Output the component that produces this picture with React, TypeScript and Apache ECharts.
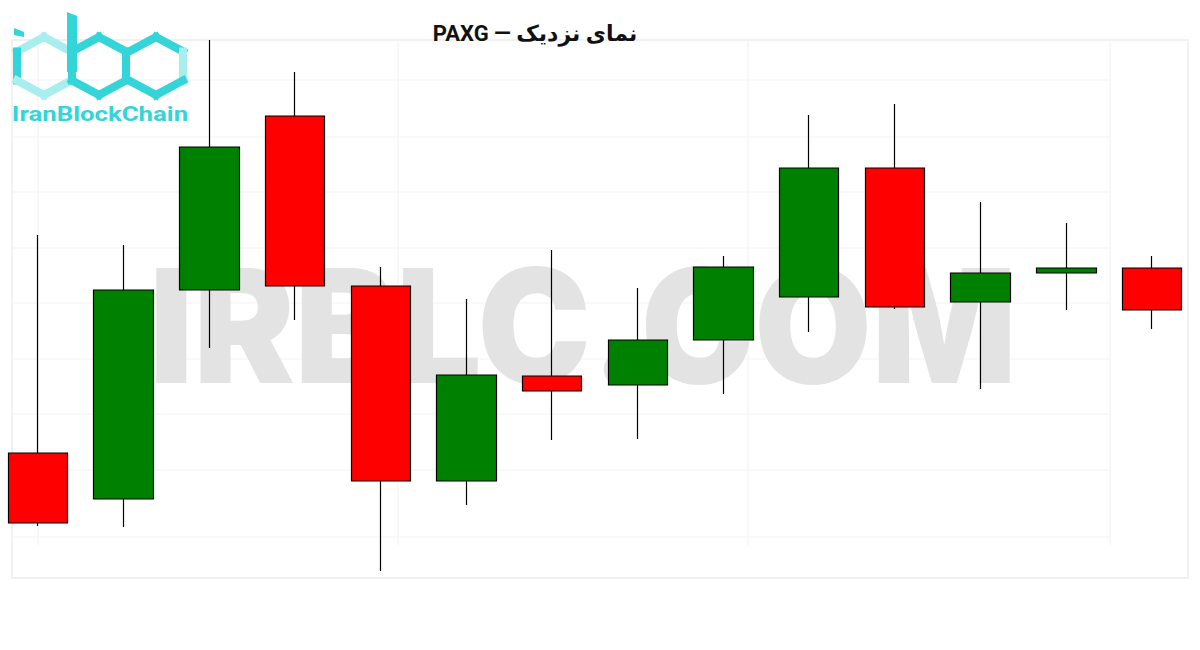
import React, { useEffect, useRef } from "react";
import * as echarts from "echarts";

const categories = ["1", "2", "3", "4", "5", "6", "7", "8", "9", "10", "11", "12", "13", "14"];
// [open, close, low, high]
const opens = [3123.5, 3100.5, 3205, 3292, 3207, 3109.5, 3162, 3157.5, 3180, 3201.5, 3266, 3199, 3213.5, 3216];
const closes = [3088.5, 3205, 3276.5, 3207, 3109.5, 3162.5, 3154.5, 3180, 3216.5, 3266, 3196.5, 3213.5, 3216, 3195];
const lows = [3087, 3086.5, 3176, 3190, 3064.5, 3097.5, 3130, 3130.5, 3153, 3184, 3195.5, 3155.5, 3195, 3185.5];
const highs = [3232.5, 3227.5, 3330, 3314, 3216.5, 3200.5, 3225, 3206, 3222, 3292.5, 3298, 3249, 3238.5, 3222];

const TITLE = "نمای نزدیک — PAXG";
const WATERMARK = "IRBLC.COM";
const LOGO_TEXT = "IranBlockChain";

const CYAN = "#34d5d8";
const LIGHT = "#a9eeef";

function hex(cx: number, cy: number) {
  const hw = 27, hh = 29, sh = 14.5;
  return {
    top: [cx, cy - hh],
    tr: [cx + hw, cy - sh],
    br: [cx + hw, cy + sh],
    bot: [cx, cy + hh],
    bl: [cx - hw, cy + sh],
    tl: [cx - hw, cy - sh],
  } as Record<string, number[]>;
}

function seg(a: number[], b: number[], color: string) {
  return {
    type: "polyline",
    shape: { points: [a, b] },
    style: { stroke: color, lineWidth: 8, fill: null, lineCap: "square" },
    z: 10,
    silent: true,
  };
}

function buildLogo() {
  const els: any[] = [];
  const h1 = hex(44, 66);
  const h2 = hex(99, 66);
  const h3 = hex(156, 66);
  els.push(seg(h1.tl, h1.top, LIGHT));
  els.push(seg(h1.top, h1.tr, LIGHT));
  els.push(seg(h1.tl, h1.bl, CYAN));
  els.push(seg(h1.bl, h1.bot, LIGHT));
  els.push(seg(h1.bot, h1.br, LIGHT));
  els.push(seg(h2.top, h2.tr, CYAN));
  els.push(seg(h2.tr, h2.br, CYAN));
  els.push(seg(h2.br, h2.bot, CYAN));
  els.push(seg(h2.bot, h2.bl, CYAN));
  els.push(seg(h2.bl, h2.tl, CYAN));
  els.push(seg(h2.tl, h2.top, CYAN));
  els.push(seg(h3.tl, h3.top, CYAN));
  els.push(seg(h3.top, h3.tr, CYAN));
  els.push(seg(h3.tr, h3.br, LIGHT));
  els.push(seg(h3.br, h3.bot, CYAN));
  els.push(seg(h3.bot, h3.bl, CYAN));
  els.push({
    type: "polygon",
    shape: { points: [[67, 12], [77, 16], [77, 72], [67, 72]] },
    style: { fill: CYAN },
    z: 10,
    silent: true,
  });
  els.push({
    type: "polygon",
    shape: { points: [[14, 28], [24, 32], [24, 37], [14, 35]] },
    style: { fill: CYAN },
    z: 10,
    silent: true,
  });
  els.push({
    type: "text",
    x: 100,
    y: 115,
    scaleX: 1.29,
    style: {
      text: LOGO_TEXT,
      fill: CYAN,
      font: "bold 20px Roboto, sans-serif",
      textAlign: "center",
      textVerticalAlign: "middle",
    },
    z: 10,
    silent: true,
  });
  return els;
}

function buildBackground() {
  const els: any[] = [];
  const c = "#f3f3f3";
  const hy = [80, 137, 192, 248, 303, 359, 414, 470, 537];
  hy.forEach((y) =>
    els.push({
      type: "line",
      shape: { x1: 12, y1: y, x2: 1110, y2: y },
      style: { stroke: c, lineWidth: 1.2 },
      z: -2,
      silent: true,
    })
  );
  const vx = [38, 398, 748, 1110];
  vx.forEach((x) =>
    els.push({
      type: "line",
      shape: { x1: x, y1: 40, x2: x, y2: 545 },
      style: { stroke: c, lineWidth: 1.2 },
      z: -2,
      silent: true,
    })
  );
  els.push({
    type: "rect",
    shape: { x: 12, y: 40, width: 1176, height: 538 },
    style: { stroke: "#f1f1f1", lineWidth: 2, fill: null },
    z: -2,
    silent: true,
  });
  return els;
}

export default function App() {
  const ref = useRef<HTMLDivElement>(null);
  useEffect(() => {
    if (!ref.current) return;
    const chart = echarts.init(ref.current, null, { renderer: "svg" });
    const data = opens.map((o, i) => [o, closes[i], lows[i], highs[i]]);
    chart.setOption({
      animation: false,
      backgroundColor: "#ffffff",
      grid: { left: 38, right: 48, top: 20, bottom: 50, containLabel: false },
      xAxis: {
        type: "category",
        data: categories,
        show: false,
        boundaryGap: false,
      },
      yAxis: {
        type: "value",
        min: 3050,
        max: 3340,
        show: false,
        scale: true,
      },
      graphic: [
        ...buildBackground(),
        {
          type: "text",
          x: 583,
          y: 325,
          scaleX: 0.96,
          style: {
            text: WATERMARK,
            fill: "#e3e3e3",
            font: "900 158px Inter, 'Open Sans', sans-serif",
            textAlign: "center",
            textVerticalAlign: "middle",
          },
          z: -1,
          silent: true,
        },
        ...buildLogo(),
        {
          type: "text",
          x: 535,
          y: 33,
          style: {
            text: TITLE,
            fill: "#111111",
            font: "bold 22px Roboto, 'DejaVu Sans', sans-serif",
            textAlign: "center",
            textVerticalAlign: "middle",
          },
          z: 10,
          silent: true,
        },
      ],
      series: [
        {
          type: "candlestick",
          data,
          barWidth: 60,
          clip: false,
          z: 5,
          itemStyle: {
            color: "#008000",
            color0: "#ff0000",
            borderColor: "#000000",
            borderColor0: "#000000",
            borderWidth: 1.2,
          },
        },
      ],
    });
    return () => chart.dispose();
  }, []);
  return (
    <div
      ref={ref}
      style={{ width: 1200, height: 650, position: "absolute", left: 0, top: 0, direction: "rtl" }}
    />
  );
}
